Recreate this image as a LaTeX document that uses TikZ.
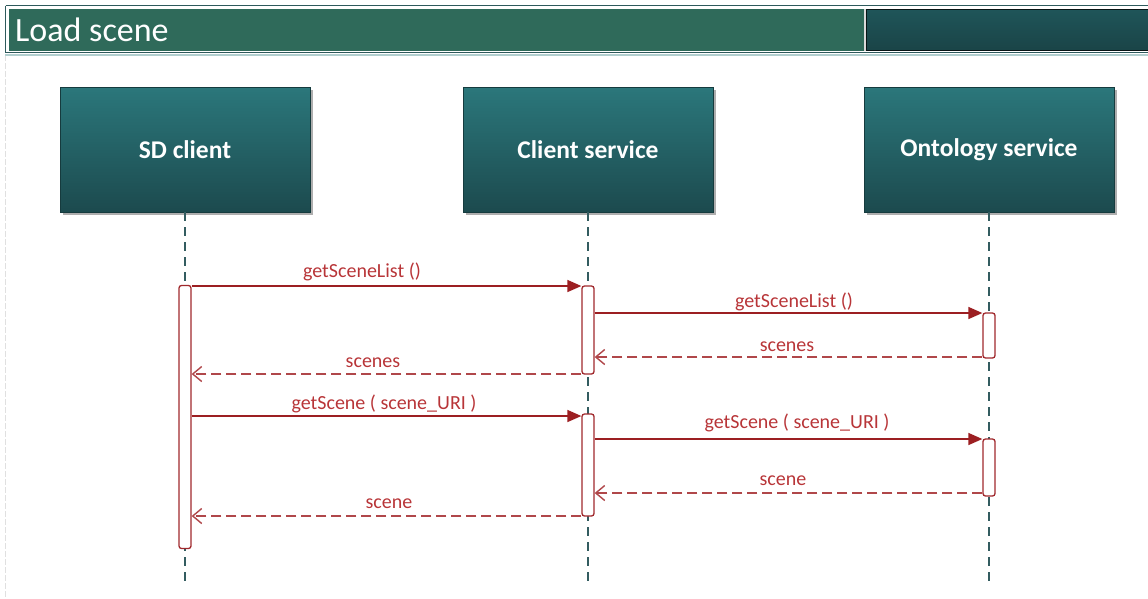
\documentclass[tikz,border=0pt]{standalone}
\usepackage{fontspec}
\setmainfont{Carlito}
\usetikzlibrary{arrows.meta,shadows,calc}

\definecolor{barGreen}{HTML}{2F6A5A}
\definecolor{barDarkTop}{HTML}{1F5559}
\definecolor{barDarkBot}{HTML}{1A4447}
\definecolor{frameTeal}{HTML}{2E5A5C}
\definecolor{boxTop}{HTML}{2B777B}
\definecolor{boxBot}{HTML}{1C4A4E}
\definecolor{lifeTeal}{HTML}{335C60}
\definecolor{msgRed}{HTML}{9C1F22}
\definecolor{retRed}{HTML}{B0474A}
\definecolor{lblRed}{HTML}{B83538}
\definecolor{actRed}{HTML}{A0292D}

\tikzset{
  actor/.style={minimum width=250pt, minimum height=125pt, inner sep=0pt,
    top color=boxTop, bottom color=boxBot, draw=boxBot!80!black, line width=0.5pt,
    drop shadow={shadow xshift=2.5pt, shadow yshift=-2.5pt, opacity=0.45, fill=black!70},
    text=white, font=\fontsize{25.5}{30}\selectfont\bfseries},
  lifeline/.style={draw=lifeTeal, line width=1.8pt, dash pattern=on 9pt off 6pt},
  activation/.style={draw=actRed, fill=white, line width=1.3pt, rounded corners=2.5pt},
  call/.style={draw=msgRed, line width=1.5pt, -{Triangle[length=14pt,width=12pt]}},
  reply/.style={draw=retRed, line width=1.5pt, dash pattern=on 10pt off 5pt,
    -{Straight Barb[length=9pt,width=15pt,line width=1.4pt]}},
  msglabel/.style={anchor=base, inner sep=0pt, text=lblRed, font=\fontsize{20}{24}\selectfont},
}

\begin{document}
\begin{tikzpicture}[x=1pt,y=-1pt]
  \useasboundingbox (0,0) rectangle (1148,598);

  % slide edge on the left
  \draw[black!12, line width=1pt, dash pattern=on 6pt off 2pt] (5.5,55) -- (5.5,598);

  % title bar
  \draw[frameTeal, line width=1.2pt] (5.5,5.5) -- (1160,5.5);
  \draw[frameTeal, line width=1.2pt] (5.5,5.5) -- (5.5,52.5) -- (1160,52.5);
  \draw[black!25!teal!30, line width=1.4pt] (5,54.8) -- (1148,54.8);
  \fill[barGreen] (9,9) rectangle (864,50.5);
  \fill[black!15] (864,9) rectangle (866.5,50.5);
  \shade[top color=barDarkTop, bottom color=barDarkBot, draw=black!70!barDarkBot, line width=0.8pt]
    (866.8,9.3) rectangle (1160,50.3);
  \node[anchor=base west, inner sep=0pt, text=white, font=\fontsize{34}{40}\selectfont]
    (title) at (15,41) {Load scene};

  % participants
  \node[actor] (sd)  at (185,149.5) {SD client};
  \node[actor] (cs)  at (588,149.5) {Client service};
  \node[actor] (ont) at (989,149.5) {Ontology service};

  % lifelines
  \coordinate (sdEnd)  at (185,586);
  \coordinate (csEnd)  at (588,586);
  \coordinate (ontEnd) at (989,586);
  \draw[lifeline] (sd.south)  -- (sdEnd);
  \draw[lifeline] (cs.south)  -- (csEnd);
  \draw[lifeline] (ont.south) -- (ontEnd);

  % activation bars
  \node[activation, minimum width=12pt, minimum height=263pt, inner sep=0pt] (sdA)  at (185,417) {};
  \node[activation, minimum width=12pt, minimum height=88pt, inner sep=0pt] (csA)  at (588,330) {};
  \node[activation, minimum width=12pt, minimum height=102pt, inner sep=0pt] (csB)  at (588,465) {};
  \node[activation, minimum width=12pt, minimum height=45pt, inner sep=0pt] (ontA) at (989,335.5) {};
  \node[activation, minimum width=12pt, minimum height=57pt, inner sep=0pt] (ontB) at (989,467.5) {};

  % message end points on the bars
  \coordinate (m1s) at (sdA.east |- 0,286);
  \coordinate (m1e) at (csA.west |- 0,286);
  \coordinate (m2s) at (csA.east |- 0,313);
  \coordinate (m2e) at (ontA.west |- 0,313);
  \coordinate (m3s) at (ontA.west |- 0,357);
  \coordinate (m3e) at (csA.east |- 0,357);
  \coordinate (m4s) at (csA.west |- 0,374);
  \coordinate (m4e) at (sdA.east |- 0,374);
  \coordinate (m5s) at (sdA.east |- 0,416);
  \coordinate (m5e) at (csB.west |- 0,416);
  \coordinate (m6s) at (csB.east |- 0,439);
  \coordinate (m6e) at (ontB.west |- 0,439);
  \coordinate (m7s) at (ontB.west |- 0,493);
  \coordinate (m7e) at (csB.east |- 0,493);
  \coordinate (m8s) at (csB.west |- 0,516);
  \coordinate (m8e) at (sdA.east |- 0,516);

  % messages
  \draw[call]  (m1s) -- (m1e);
  \draw[call]  (m2s) -- (m2e);
  \draw[reply] (m3s) -- (m3e);
  \draw[reply] (m4s) -- (m4e);
  \draw[call]  (m5s) -- (m5e);
  \draw[call]  (m6s) -- (m6e);
  \draw[reply] (m7s) -- (m7e);
  \draw[reply] (m8s) -- (m8e);

  % message labels
  \node[msglabel] (l1) at (362,277.5) {getSceneList ()};
  \node[msglabel] (l2) at (794,307.5) {getSceneList ()};
  \node[msglabel] (l3) at (787,351) {scenes};
  \node[msglabel] (l4) at (373,367.5) {scenes};
  \node[msglabel] (l5) at (384,409) {getScene ( scene\_URI )};
  \node[msglabel] (l6) at (797,428) {getScene ( scene\_URI )};
  \node[msglabel] (l7) at (783,485.5) {scene};
  \node[msglabel] (l8) at (389,508.5) {scene};
\end{tikzpicture}
\end{document}
